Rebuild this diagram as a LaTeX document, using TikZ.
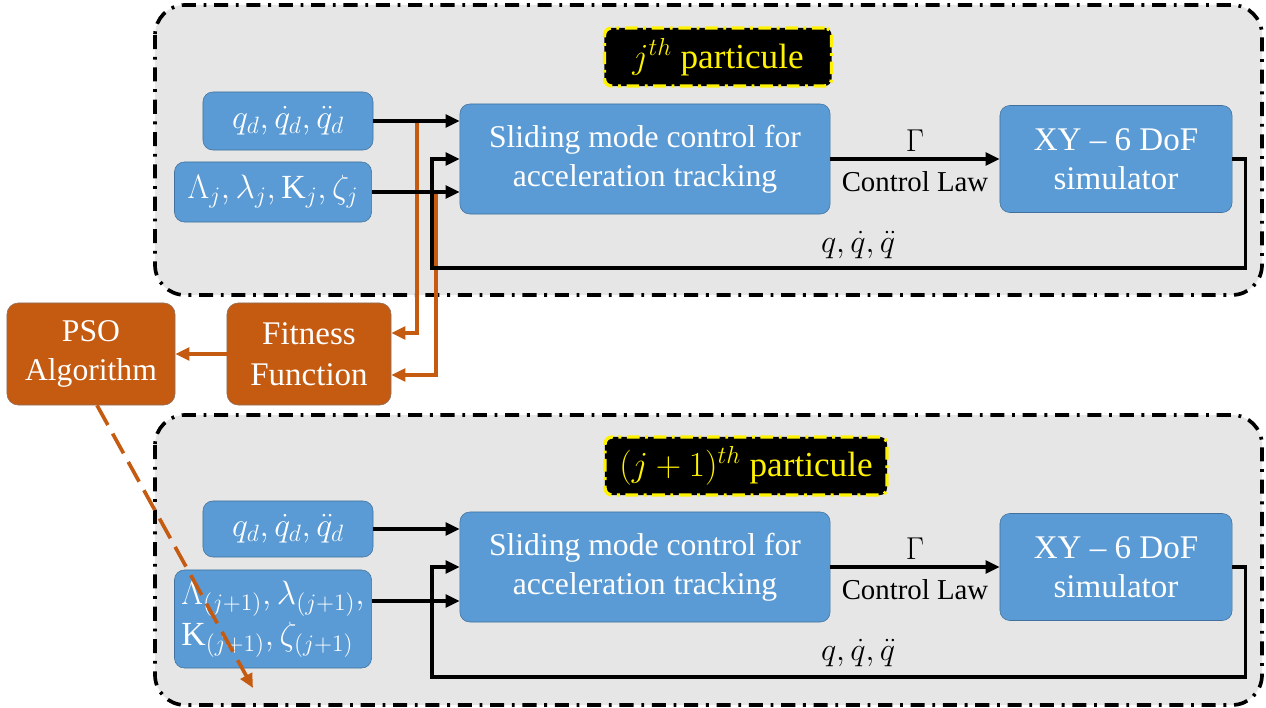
\RequirePackage{fix-cm}
\documentclass[tikz,border=0pt]{standalone}
\usepackage{fontspec}
\setmainfont{Liberation Serif}
\usetikzlibrary{arrows.meta,positioning,calc}

\definecolor{panelgray}{HTML}{E7E6E6}
\definecolor{boxblue}{HTML}{5B9BD5}
\definecolor{boxedge}{HTML}{41719C}
\definecolor{psoorange}{HTML}{C55A11}
\definecolor{psoedge}{HTML}{8A6F60}

\begin{document}
\begin{tikzpicture}[
  x=0.025cm, y=-0.025cm,
  >={Triangle[length=10pt,width=9pt]},
  every node/.style={font=\fontsize{22.5}{28}\selectfont},
  panel/.style={draw, line width=2.6pt, fill=panelgray, rounded corners=0.75cm,
                dash pattern=on 10pt off 5.5pt on 2pt off 5.5pt},
  tag/.style={draw=yellow, fill=black, text=yellow, line width=2.4pt,
              rounded corners=5pt, minimum height=1.45cm,
              dash pattern=on 9pt off 4pt on 2pt off 4pt,
              font=\fontsize{25}{28}\selectfont},
  box/.style={draw=boxedge, fill=boxblue, text=white, rounded corners=7pt,
              align=center, inner sep=2pt},
  mathbox/.style={box, font=\fontsize{24}{29}\selectfont},
  algo/.style={draw=psoedge, fill=psoorange, text=white, rounded corners=8pt,
               align=center, minimum width=4.1cm, minimum height=2.55cm},
  arr/.style={->, line width=2.6pt},
  oline/.style={->, line width=2.6pt, psoorange},
]
\useasboundingbox (0,0) rectangle (1266,708);

% the two particle panels
\draw[panel] (155,5) rectangle (1262,295);
\draw[panel] (155,415) rectangle (1262,705);

% j-th particule
\node[tag, minimum width=5.675cm] (tag1) at (718,57) {$j^{th}$ particule};
\node[mathbox, minimum width=4.25cm, minimum height=1.45cm] (qd1) at (288,121)
  {$q_d, \dot q_d, \ddot q_d$};
\node[mathbox, minimum width=4.925cm, minimum height=1.5cm] (lam1) at (273,192)
  {$\Lambda_j, \lambda_j, \mathrm{K}_j, \zeta_j$};
\node[box, minimum width=9.25cm, minimum height=2.75cm] (smc1) at (645,159)
  {Sliding mode control for\\acceleration tracking};
\node[box, minimum width=5.8cm, minimum height=2.675cm,
      font=\fontsize{23.5}{28}\selectfont] (sim1) at (1116,159)
  {XY -- 6 DoF\\simulator};

% (j+1)-th particule
\node[tag, minimum width=7.05cm] (tag2) at (746,466) {$(j+1)^{th}$ particule};
\node[mathbox, minimum width=4.25cm, minimum height=1.4cm] (qd2) at (288,529)
  {$q_d, \dot q_d, \ddot q_d$};
\node[mathbox, minimum width=4.925cm, minimum height=2.45cm, align=left,
      inner sep=1pt] (lam2) at (273,619)
  {$\Lambda_{(j+1)}, \lambda_{(j+1)},$\\$\mathrm{K}_{(j+1)}, \zeta_{(j+1)}$};
\node[box, minimum width=9.25cm, minimum height=2.75cm] (smc2) at (645,567)
  {Sliding mode control for\\acceleration tracking};
\node[box, minimum width=5.8cm, minimum height=2.675cm,
      font=\fontsize{23.5}{28}\selectfont] (sim2) at (1116,567)
  {XY -- 6 DoF\\simulator};

% optimiser
\node[algo, font=\fontsize{23.5}{29}\selectfont] (fit) at (309,354) {Fitness\\Function};
\node[algo, minimum width=4.2cm] (pso) at (91,354) {PSO\\Algorithm};

% orange taps to the fitness function (under the black lines)
\draw[oline] (417,0 |- qd1.east) |- ([yshift=0.525cm]fit.east);
\draw[oline] (436,0 |- lam1.east) |- ([yshift=-0.525cm]fit.east);
\draw[oline] (fit.west) -- (pso.east);

% loop of the first particule
\draw[arr] (qd1.east) -- (qd1.east -| smc1.west);
\draw[arr] (lam1.east) -- (lam1.east -| smc1.west);
\draw[arr] (smc1.east) -- node[above=1pt] {$\Gamma$}
  node[below=4pt, font=\fontsize{20.5}{24}\selectfont] {Control Law} (sim1.west);
\coordinate (fb1) at (432,268);
\draw[arr] (sim1.east) -- ++(13,0) |- (fb1) |- (smc1.west);
\node[font=\fontsize{23}{28}\selectfont] (out1) at (858,245) {$q, \dot q, \ddot q$};

% loop of the second particule
\coordinate (lamout2) at ([yshift=0.45cm]lam2.east);
\draw[arr] (qd2.east) -- (qd2.east -| smc2.west);
\draw[arr] (lamout2) -- (lamout2 -| smc2.west);
\draw[arr] (smc2.east) -- node[above=1pt] {$\Gamma$}
  node[below=4pt, font=\fontsize{20.5}{24}\selectfont] {Control Law} (sim2.west);
\coordinate (fb2) at (432,677);
\draw[arr] (sim2.east) -- ++(13,0) |- (fb2) |- (smc2.west);
\node[font=\fontsize{23}{28}\selectfont] (out2) at (858,653) {$q, \dot q, \ddot q$};

% PSO updates the next particule
\coordinate (next) at (253,688);
\draw[oline, dash pattern=on 16pt off 7pt] ([xshift=0.15cm]pso.south) -- (next);
\end{tikzpicture}
\end{document}
